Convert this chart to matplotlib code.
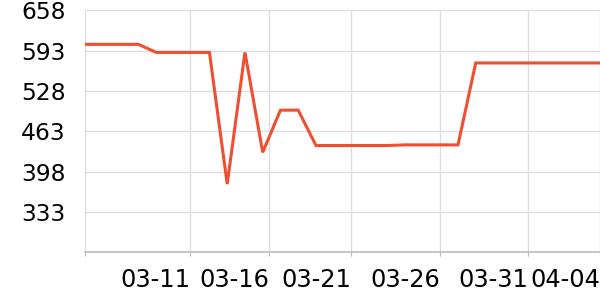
import numpy as np
import matplotlib.pyplot as plt

# values, one per day (30 points)
values = [603, 603, 603, 603, 590, 590, 590, 590, 378, 590,
          429, 497, 497, 440, 440, 440, 440, 440, 441, 441,
          441, 441, 573, 573, 573, 573, 573, 573, 573, 573]
tick_labels = ['', '03-11', '03-16', '03-21', '03-26', '03-31', '04-04']
tick_pos = [0, 5.91, 10.36, 14.98, 19.99, 24.94, 29]
y_ticks = [333, 398, 463, 528, 593, 658]

fig = plt.figure(figsize=(6, 3), dpi=100)
ax = fig.add_axes([0.142, 0.159, 0.858, 0.807])

x = np.arange(len(values))
ax.plot(x, values, color='#f04e30', linewidth=2.2, solid_joinstyle='miter')

ax.set_xlim(0, len(values) - 1)
ax.set_ylim(268, 658)
ax.set_yticks(y_ticks)
ax.set_xticks(tick_pos)
ax.set_xticklabels(tick_labels, ha='right')

ax.grid(True, color='#dddddd', linewidth=1)
ax.set_axisbelow(True)
for s in ['top', 'right', 'left']:
    ax.spines[s].set_visible(False)
ax.spines['bottom'].set_color('#bbbbbb')
ax.spines['bottom'].set_linewidth(1.2)

ax.tick_params(axis='y', length=0, pad=14, labelsize=16.8)
ax.tick_params(axis='x', length=3, color='#bbbbbb', pad=8, labelsize=17.3)

plt.savefig('out.png')
